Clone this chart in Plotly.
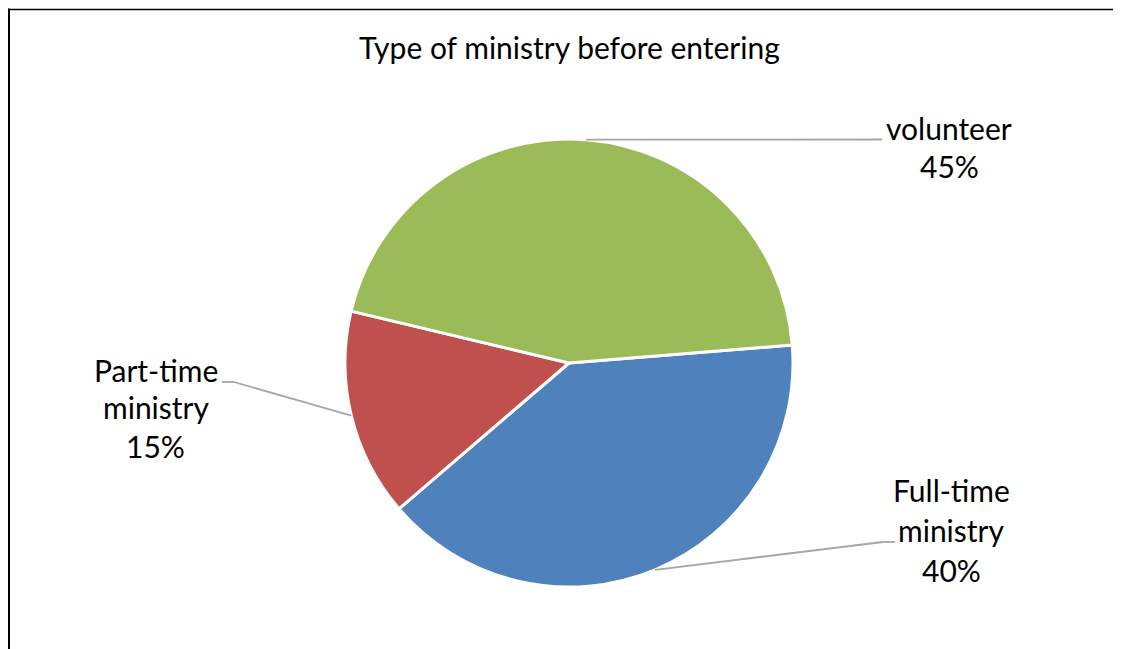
import math
import plotly.graph_objects as go

# ---- data ----
categories = ["Full-time ministry", "Part-time ministry", "volunteer"]
values = [40, 15, 45]
colors = ["#4F81BD", "#C0504D", "#9BBB59"]
title_text = "Type of ministry before entering"

# ---- layout constants (pixels, in the 1121x649 window) ----
OFF = 8                      # default page body margin
W, H = 1121 - OFF, 649 - OFF
CX, CY, R = 569, 363, 224
ROTATION = 85.4
FONT = "Lato"
FS = 30
BASE_SHIFT = 12

def px(x):
    return (x - OFF) / W

def py(y):
    return 1 - (y - OFF) / H

label_layout = {
    "volunteer": dict(cx=949, base=[140, 178], elbow=(882, 139.5), end=(882, 139.5)),
    "Part-time ministry": dict(cx=156, base=[382, 419, 458], elbow=(234, 382), end=(222, 382)),
    "Full-time ministry": dict(cx=951, base=[502, 542, 582], elbow=(883, 542), end=(895, 542)),
}

total = sum(values)
fig = go.Figure(go.Pie(
    labels=categories,
    values=values,
    sort=False,
    direction="clockwise",
    rotation=ROTATION,
    marker=dict(colors=colors, line=dict(color="white", width=3)),
    textinfo="none",
    hoverinfo="label+percent",
    showlegend=False,
    domain=dict(x=[px(CX - R), px(CX + R)], y=[py(CY + R), py(CY - R)]),
))

shapes = []
annotations = []
cum = 0.0
for cat, val in zip(categories, values):
    mid = ROTATION + 360.0 * (cum + val / 2) / total
    cum += val
    a = math.radians(mid)
    ax = CX + R * math.sin(a)
    ay = CY - R * math.cos(a)
    lay = label_layout[cat]
    ex, ey = lay["elbow"]
    fx, fy = lay["end"]
    shapes.append(dict(type="line", xref="paper", yref="paper",
                       x0=px(ax), y0=py(ay), x1=px(ex), y1=py(ey),
                       line=dict(color="#A6A6A6", width=1.8)))
    if (ex, ey) != (fx, fy):
        shapes.append(dict(type="line", xref="paper", yref="paper",
                           x0=px(ex), y0=py(ey), x1=px(fx), y1=py(fy),
                           line=dict(color="#A6A6A6", width=1.8)))
    pct = f"{round(100 * val / total)}%"
    if cat == "volunteer":
        lines = ["volunteer", pct]
    else:
        w = cat.split(" ")
        lines = [w[0], w[1], pct]
    for txt, b in zip(lines, lay["base"]):
        annotations.append(dict(text=txt, x=px(lay["cx"]), y=py(b - BASE_SHIFT),
                                xref="paper", yref="paper", xanchor="center", yanchor="middle",
                                showarrow=False, font=dict(family=FONT, size=FS, color="#000000")))

annotations.append(dict(text=title_text, x=px(569), y=py(59 - BASE_SHIFT), xref="paper", yref="paper",
                        xanchor="center", yanchor="middle", showarrow=False,
                        font=dict(family=FONT, size=FS, color="#000000")))

# chart border (left and top edges visible)
shapes.append(dict(type="line", xref="paper", yref="paper", x0=px(9), x1=px(9), y0=py(8.5), y1=py(660),
                   line=dict(color="#000000", width=2)))
shapes.append(dict(type="line", xref="paper", yref="paper", x0=px(8), x1=px(1130), y0=py(9.5), y1=py(9.5),
                   line=dict(color="#000000", width=1.5)))

fig.update_layout(
    width=W, height=H,
    margin=dict(l=0, r=0, t=0, b=0),
    paper_bgcolor="white", plot_bgcolor="white",
    shapes=shapes, annotations=annotations,
)

fig.write_html("out.html")
